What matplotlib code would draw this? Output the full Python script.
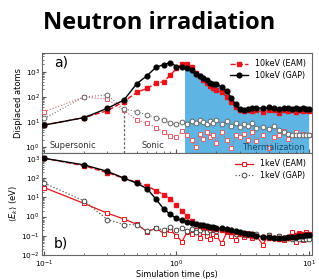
import numpy as np
import matplotlib
matplotlib.use("Agg")
import matplotlib.pyplot as plt

# ---------------- data ----------------
time_ps = [0.1, 0.2, 0.3, 0.4, 0.5, 0.6, 0.7, 0.8, 0.9, 1.0,
           1.1, 1.2, 1.3, 1.4, 1.5, 1.6, 1.7, 1.8, 1.9, 2.0,
           2.2, 2.4, 2.6, 2.8, 3.0, 3.25, 3.5, 3.75, 4.0, 4.5,
           5.0, 5.5, 6.0, 6.5, 7.0, 7.5, 8.0, 8.5, 9.0, 9.5, 10.0]

# (a) displaced atoms
disp_10keV_gap = [7.6, 15, 35, 75, 330, 700, 1500, 1900, 2300, 1600,
                  1500, 1350, 1150, 800, 650, 560, 470, 370, 330, 330,
                  250, 170, 90, 50, 32, 30, 34, 36, 37, 35,
                  38, 36, 34, 37, 35, 33, 36, 34, 35, 33, 34]
disp_10keV_eam = [7.6, 15, 28, 65, 150, 220, 345, 400, 740, 1350,
                  2000, 2100, 1500, 900, 650, 480, 360, 270, 220, 190,
                  150, 100, 60, 40, 30, 28, 30, 27, 30, 25,
                  30, 29, 22, 30, 28, 30, 26, 30, 27, 29, 28]
disp_1keV_eam = [26, 100, 80, 30, 12, 9, 6, 4, 2.8, 2.5,
                 4.5, 3, 2, 1.0, 3.5, 2.2, 4, 2.5, 3, 1.5,
                 4, 2, 0.9, 3, 2.5, 3.5, 2, 4, 1.8, 3,
                 0.9, 2.5, 3, 4.5, 2.2, 3, 4, 3, 3.5, 3, 3.2]
disp_1keV_gap = [14, 100, 118, 33, 26, 19, 15, 12, 9, 8,
                 10, 8, 11, 9, 12, 10, 8, 11, 9, 12,
                 8, 11, 7, 9, 6.5, 8, 7, 9, 6, 6.5,
                 5.5, 7, 5, 4, 3.5, 3.2, 3.2, 3.1, 3.2, 3.1, 3.2]

# (b) mean kinetic energy (eV)
ek_10keV_gap = [1080, 490, 225, 100, 55, 28, 8, 2.5, 1.3, 0.8,
                0.63, 0.55, 0.45, 0.42, 0.38, 0.35, 0.32, 0.29, 0.28, 0.26,
                0.24, 0.23, 0.19, 0.17, 0.15, 0.14, 0.13, 0.12, 0.1, 0.09,
                0.085, 0.08, 0.075, 0.08, 0.085, 0.09, 0.09, 0.1, 0.1, 0.11, 0.11]
ek_10keV_eam = [1080, 440, 190, 100, 60, 40, 22, 14, 8, 4,
                2, 1.1, 0.6, 0.4, 0.35, 0.3, 0.28, 0.25, 0.24, 0.22,
                0.2, 0.18, 0.16, 0.15, 0.13, 0.12, 0.11, 0.1, 0.095, 0.09,
                0.08, 0.075, 0.07, 0.075, 0.08, 0.1, 0.11, 0.12, 0.13, 0.12, 0.13]
ek_1keV_eam = [32, 4.8, 1.5, 0.75, 0.4, 0.16, 0.25, 0.13, 0.2, 0.1,
               0.05, 0.15, 0.12, 0.2, 0.08, 0.15, 0.1, 0.07, 0.13, 0.1,
               0.04, 0.15, 0.1, 0.06, 0.12, 0.09, 0.14, 0.08, 0.1, 0.035,
               0.11, 0.08, 0.1, 0.06, 0.09, 0.16, 0.05, 0.14, 0.06, 0.15, 0.08]
ek_1keV_gap = [55, 6.5, 0.7, 0.38, 0.38, 0.17, 0.25, 0.2, 0.3, 0.2,
               0.25, 0.18, 0.22, 0.15, 0.2, 0.25, 0.16, 0.2, 0.22, 0.17,
               0.22, 0.18, 0.15, 0.12, 0.14, 0.11, 0.13, 0.1, 0.12, 0.09,
               0.11, 0.08, 0.1, 0.075, 0.08, 0.07, 0.075, 0.07, 0.07, 0.065, 0.07]

sonic_start = 0.4
thermal_start = 1.15
phase_labels = ["Supersonic", "Sonic", "Thermalization"]

# ---------------- figure ----------------
W, H = 319, 279
fig = plt.figure(figsize=(W / 100, H / 100), dpi=100)
plt.rcParams['font.family'] = ['DejaVu Sans']

def box(l, t, r, b):
    return [l / W, 1 - b / H, (r - l) / W, (b - t) / H]

ax1 = fig.add_axes(box(42, 53, 312, 153))
ax2 = fig.add_axes(box(42, 153, 312, 255), sharex=ax1)

t = np.array(time_ps)
RED = '#e8141b'
LRED = '#e0606a'
ms = 3.4

# --- panel a ---
ylo_a, yhi_a = 0.59, 5500
g = np.array(disp_10keV_gap)
mask = t >= thermal_start
start_val = 10 ** np.interp(np.log10(thermal_start), np.log10(t), np.log10(g))
fx = np.concatenate([[thermal_start], t[mask]])
fy = np.concatenate([[start_val], g[mask]])
ax1.fill_between(fx, ylo_a, fy, color='#5eb4e2', lw=0, zorder=1)
ax1.plot([sonic_start, sonic_start], [ylo_a, 75], ls=(0, (2, 1.5)), color='#666666', lw=0.9, zorder=2)

ax1.plot(t, disp_1keV_eam, ls=':', color=LRED, lw=0.8, marker='s', ms=ms,
         mfc='white', mec=LRED, mew=0.7, zorder=3)
ax1.plot(t, disp_1keV_gap, ls=':', color='#777777', lw=0.8, marker='o', ms=ms,
         mfc='white', mec='#666666', mew=0.7, zorder=3)
l1, = ax1.plot(t, disp_10keV_eam, ls='--', color=RED, lw=1.0, marker='s', ms=ms,
               mfc=RED, mec=RED, zorder=4, label='10keV (EAM)')
l2, = ax1.plot(t, disp_10keV_gap, ls='-', color='black', lw=1.0, marker='o', ms=ms,
               mfc='black', mec='black', zorder=5, label='10keV (GAP)')

ax1.set_yscale('log')
ax1.set_xscale('log')
ax1.set_ylim(ylo_a, yhi_a)
ax1.set_xlim(0.096, 10.6)
ax1.set_ylabel('Displaced atoms', fontsize=6, labelpad=2)
ax1.text(0.045, 0.86, 'a)', transform=ax1.transAxes, fontsize=10)
ax1.text(0.165, 1.2, phase_labels[0], fontsize=6, ha='center', va='center', color='#333333')
ax1.text(0.66, 1.2, phase_labels[1], fontsize=6, ha='center', va='center', color='#333333')
ax1.text(5.4, 1.0, phase_labels[2], fontsize=6, ha='center', va='center', color='#1a4a6a')
ax1.legend(handles=[l1, l2], loc='upper right', fontsize=5.8, frameon=False,
           handlelength=2.2, borderaxespad=0.4, labelspacing=0.3)
plt.setp(ax1.get_xticklabels(), visible=False)

# --- panel b ---
l3, = ax2.plot(t, ek_1keV_eam, ls='-', color=RED, lw=0.9, marker='s', ms=ms,
               mfc='white', mec=RED, mew=0.7, zorder=3, label='1keV (EAM)')
l4, = ax2.plot(t, ek_1keV_gap, ls=':', color='#555555', lw=0.9, marker='o', ms=ms,
               mfc='white', mec='#444444', mew=0.7, zorder=3, label='1keV (GAP)')
ax2.plot(t, ek_10keV_eam, ls='--', color=RED, lw=1.0, marker='s', ms=ms,
         mfc=RED, mec=RED, zorder=4)
ax2.plot(t, ek_10keV_gap, ls='-', color='black', lw=1.0, marker='o', ms=ms,
         mfc='black', mec='black', zorder=5)
ax2.set_yscale('log')
ax2.set_ylim(0.01, 2040)
ax2.set_ylabel(r'$\langle E_k \rangle$ (eV)', fontsize=6, labelpad=2)
ax2.set_xlabel('Simulation time (ps)', fontsize=5.8, labelpad=0.5)
ax2.text(0.045, 0.07, 'b)', transform=ax2.transAxes, fontsize=10)
ax2.legend(handles=[l3, l4], loc='upper right', fontsize=5.8, frameon=False,
           handlelength=2.2, borderaxespad=0.4, labelspacing=0.3)

for ax in (ax1, ax2):
    ax.tick_params(which='both', direction='in', labelsize=5.3, pad=1.5,
                   color='#555555')
    ax.tick_params(which='major', length=3)
    ax.tick_params(which='minor', length=1.5)
    for s in ax.spines.values():
        s.set_color('#666666')
        s.set_linewidth(0.8)
ax1.yaxis.set_major_locator(matplotlib.ticker.LogLocator(base=10, numticks=10))
ax2.yaxis.set_major_locator(matplotlib.ticker.LogLocator(base=10, numticks=10))
ax2.tick_params(axis='x', which='major', pad=2.5)

fig.text(0.5, 0.919, 'Neutron irradiation', fontsize=17, fontweight='bold',
         ha='center', va='center', family=['Open Sans', 'DejaVu Sans'])

fig.savefig('out.png', dpi=100)
